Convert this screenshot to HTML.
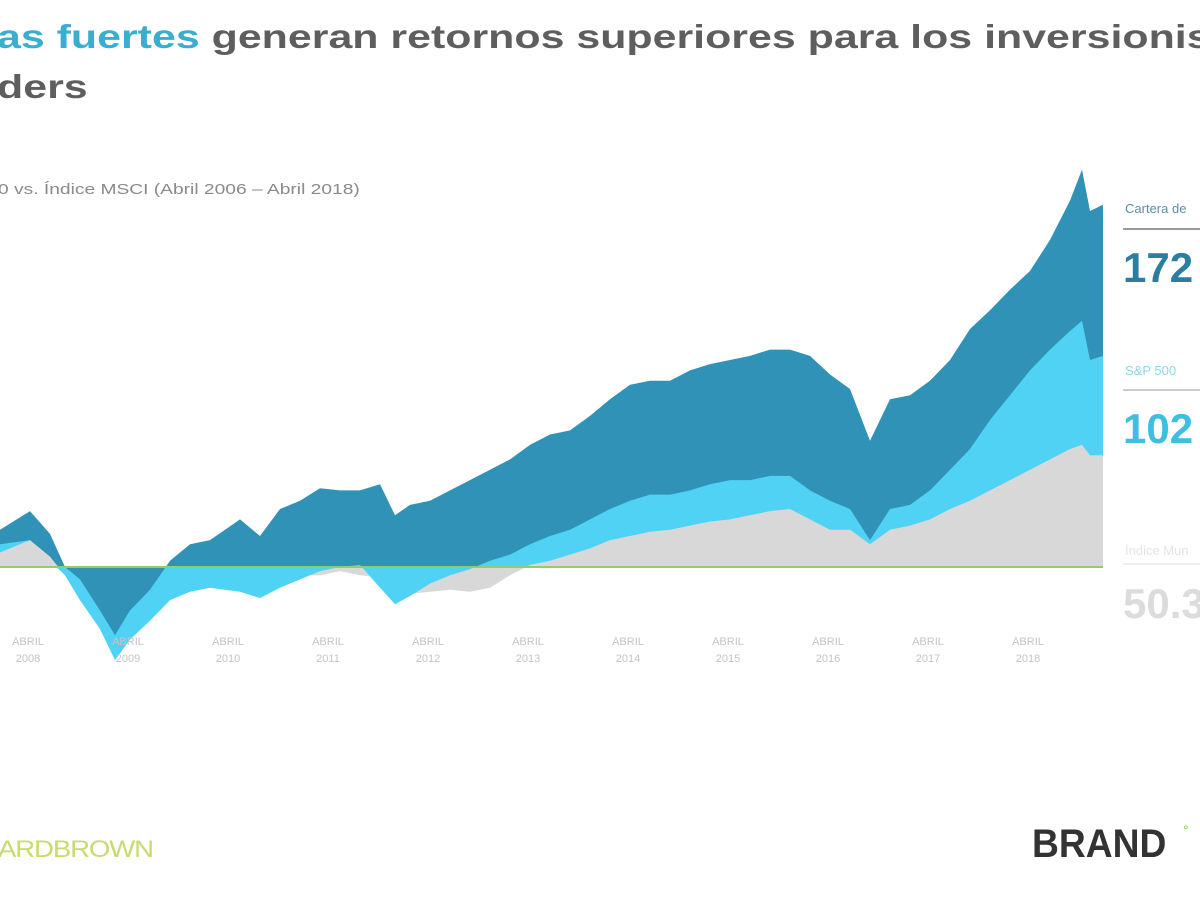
<!DOCTYPE html>
<html><head><meta charset="utf-8"><style>
body{margin:0;width:1200px;height:900px;overflow:hidden;background:#fff;font-family:"Liberation Sans",sans-serif;position:relative}
.t{position:absolute;white-space:nowrap}
</style></head><body>
<div class="t" style="left:-3px;top:12px;font-size:33px;font-weight:bold;color:#5e5e5e;line-height:50px;transform:scaleX(1.3);transform-origin:left top"><span style="color:#3aaecf">as fuertes</span> generan retornos superiores para los inversionis<br>ders</div>
<div class="t" style="left:-2px;top:181px;font-size:15px;color:#8a8a8a;transform:scaleX(1.28);transform-origin:left top">0 vs. Índice MSCI (Abril 2006 – Abril 2018)</div>
<svg id="chart" width="1200" height="900" style="position:absolute;left:0;top:0"></svg>
<div class="t" style="left:1125px;top:201px;font-size:13px;color:#5b8ea6">Cartera de</div>
<div style="position:absolute;left:1123px;top:228px;width:77px;height:2px;background:#999"></div>
<div class="t" style="left:1123px;top:244px;font-size:42px;font-weight:bold;color:#2c7ea0">172</div>
<div class="t" style="left:1125px;top:363px;font-size:13px;color:#8fd5ea">S&amp;P 500</div>
<div style="position:absolute;left:1123px;top:389px;width:77px;height:2px;background:#ccc"></div>
<div class="t" style="left:1123px;top:405px;font-size:42px;font-weight:bold;color:#3dbfe0">102</div>
<div class="t" style="left:1125px;top:543px;font-size:13px;color:#e3e3e3">Índice Mun</div>
<div style="position:absolute;left:1123px;top:563px;width:77px;height:2px;background:#eee"></div>
<div class="t" style="left:1123px;top:580px;font-size:42px;font-weight:bold;color:#dcdcdc">50.3</div>
<div class="t" style="left:-2px;top:836px;font-size:24px;color:#c8da70;letter-spacing:-1px;transform:scaleX(1.15);transform-origin:left top">ARDBROWN</div>
<div class="t" style="left:1032px;top:822px;font-size:40px;font-weight:bold;color:#333;transform:scaleX(0.93);transform-origin:left">BRAND</div>
<div class="t" style="left:1183px;top:822px;font-size:14px;color:#7bbf3a">°</div>
<script>
const years=[2007.72,2008.02,2008.22,2008.37,2008.52,2008.72,2008.87,2009.02,2009.22,2009.42,2009.62,2009.82,2010.12,2010.32,2010.52,2010.72,2010.92,2011.12,2011.32,2011.52,2011.67,2011.82,2012.02,2012.22,2012.42,2012.62,2012.82,2013.02,2013.22,2013.42,2013.62,2013.82,2014.02,2014.22,2014.42,2014.62,2014.82,2015.02,2015.22,2015.42,2015.62,2015.82,2016.02,2016.22,2016.42,2016.62,2016.82,2017.02,2017.22,2017.42,2017.62,2017.82,2018.02,2018.22,2018.42,2018.54,2018.62,2018.75];
const brand=[18,27,16,0,-6,-21,-33,-21,-11,3,11,13,23,15,28,32,38,37,37,40,25,30,32,37,42,47,52,59,64,66,73,81,88,90,90,95,98,100,102,105,105,102,93,86,61,81,83,90,100,115,124,134,143,158,177,192,172,175];
const sp500=[11,13,3,-4,-16,-30,-45,-35,-26,-16,-12,-10,-12,-15,-10,-6,-2,0,1,-10,-18,-14,-8,-4,-1,3,6,11,15,18,23,28,32,35,35,37,40,42,42,44,44,37,32,28,13,28,30,37,47,57,71,83,95,105,114,119,100,102];
const msci=[7,13,5,-4,-16,-26,-33,-28,-20,-13,-11,-9,-6,-9,-6,-4,-4,-2,-4,-5,-13,-13,-12,-11,-12,-10,-4,1,3,6,9,13,15,17,18,20,22,23,25,27,28,23,18,18,11,18,20,23,28,32,37,42,47,52,57,59,54,54];
const tickYears=[2008,2009,2010,2011,2012,2013,2014,2015,2016,2017,2018];
const NS="http://www.w3.org/2000/svg";
const svg=document.getElementById('chart');
const X=y=>53+(y-2008.25)*100;
const BASE=567,K=2.07;
const Y=v=>BASE-v*K;
function mk(t,a){const e=document.createElementNS(NS,t);for(const k in a)e.setAttribute(k,a[k]);return e;}
const defs=mk('defs',{});
const c1=mk('clipPath',{id:'above'});c1.appendChild(mk('rect',{x:0,y:0,width:1200,height:BASE}));
const c2=mk('clipPath',{id:'below'});c2.appendChild(mk('rect',{x:0,y:BASE,width:1200,height:300}));
defs.appendChild(c1);defs.appendChild(c2);svg.appendChild(defs);
function areaPath(vals){let d='M'+X(years[0])+','+BASE;years.forEach((yr,i)=>{d+='L'+X(yr).toFixed(1)+','+Y(vals[i]).toFixed(1);});d+='L'+X(years[years.length-1])+','+BASE+'Z';return d;}
const series={brand:[brand,'#2f92b6'],sp500:[sp500,'#4fd2f4'],msci:[msci,'#d8d8d8']};
[['brand','above'],['sp500','above'],['msci','above'],['msci','below'],['sp500','below'],['brand','below']].forEach(([k,c])=>{
const p=mk('path',{d:areaPath(series[k][0]),fill:series[k][1],'clip-path':'url(#'+c+')'});


svg.appendChild(p);});
const bl=mk('line',{x1:0,x2:X(years[years.length-1]),y1:BASE,y2:BASE,stroke:'#8dcf6a','stroke-width':2});


svg.appendChild(bl);
tickYears.forEach(yr=>{
const g=mk('text',{x:X(yr),y:645,'text-anchor':'middle','font-size':11,fill:'#c4c4c4','font-family':'Liberation Sans'});


const a=mk('tspan',{x:X(yr),dy:0});a.textContent='ABRIL';
const b=mk('tspan',{x:X(yr),dy:17});b.textContent=String(yr);
g.appendChild(a);g.appendChild(b);svg.appendChild(g);});
</script>
</body></html>
